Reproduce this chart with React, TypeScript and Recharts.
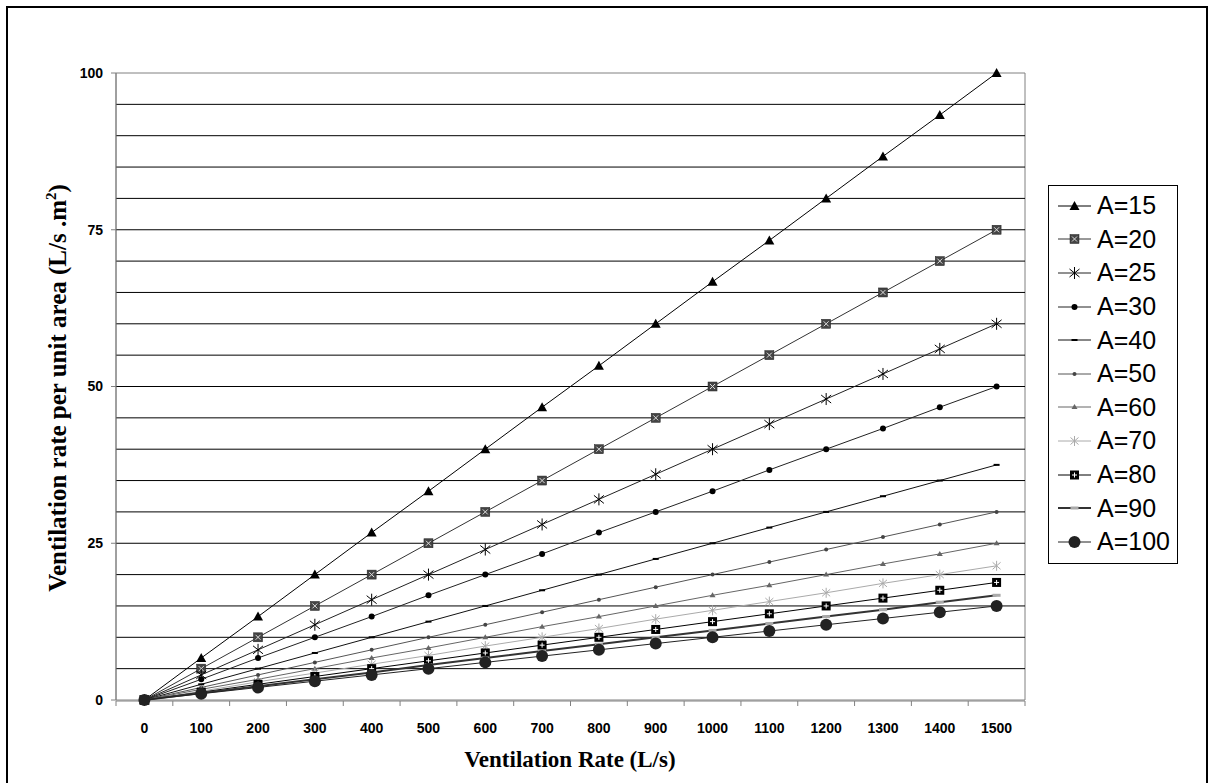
import React from 'react';
import { LineChart, Line, XAxis, YAxis, ReferenceLine, ReferenceArea } from 'recharts';

// ventilation rate (L/s) on the x axis
const rates = [0, 100, 200, 300, 400, 500, 600, 700, 800, 900, 1000, 1100, 1200, 1300, 1400, 1500];

// ventilation rate per unit area, one list per floor area A
const a15 = [0, 6.7, 13.3, 20, 26.7, 33.3, 40, 46.7, 53.3, 60, 66.7, 73.3, 80, 86.7, 93.3, 100];
const a20 = [0, 5, 10, 15, 20, 25, 30, 35, 40, 45, 50, 55, 60, 65, 70, 75];
const a25 = [0, 4, 8, 12, 16, 20, 24, 28, 32, 36, 40, 44, 48, 52, 56, 60];
const a30 = [0, 3.3, 6.7, 10, 13.3, 16.7, 20, 23.3, 26.7, 30, 33.3, 36.7, 40, 43.3, 46.7, 50];
const a40 = [0, 2.5, 5, 7.5, 10, 12.5, 15, 17.5, 20, 22.5, 25, 27.5, 30, 32.5, 35, 37.5];
const a50 = [0, 2, 4, 6, 8, 10, 12, 14, 16, 18, 20, 22, 24, 26, 28, 30];
const a60 = [0, 1.7, 3.3, 5, 6.7, 8.3, 10, 11.7, 13.3, 15, 16.7, 18.3, 20, 21.7, 23.3, 25];
const a70 = [0, 1.4, 2.9, 4.3, 5.7, 7.1, 8.6, 10, 11.4, 12.9, 14.3, 15.7, 17.1, 18.6, 20, 21.4];
const a80 = [0, 1.25, 2.5, 3.75, 5, 6.25, 7.5, 8.75, 10, 11.25, 12.5, 13.75, 15, 16.25, 17.5, 18.75];
const a90 = [0, 1.1, 2.2, 3.3, 4.4, 5.6, 6.7, 7.8, 8.9, 10, 11.1, 12.2, 13.3, 14.4, 15.6, 16.7];
const a100 = [0, 1, 2, 3, 4, 5, 6, 7, 8, 9, 10, 11, 12, 13, 14, 15];

const yTicks = [0, 25, 50, 75, 100];
const gridValues = [5, 10, 15, 20, 25, 30, 35, 40, 45, 50, 55, 60, 65, 70, 75, 80, 85, 90, 95];
// tick marks sit between the categories, like Excel
const xTickMarks = [-50, 50, 150, 250, 350, 450, 550, 650, 750, 850, 950, 1050, 1150, 1250, 1350, 1450, 1550];

type MarkerKind =
  | 'triangle' | 'squareX' | 'star' | 'dot' | 'dash' | 'smallDot'
  | 'smallTriangle' | 'lightStar' | 'squarePlus' | 'bar' | 'bigDot';

const series: { key: string; name: string; values: number[]; color: string; width: number; marker: MarkerKind }[] = [
  { key: 'a15', name: 'A=15', values: a15, color: '#000', width: 1, marker: 'triangle' },
  { key: 'a20', name: 'A=20', values: a20, color: '#333', width: 1, marker: 'squareX' },
  { key: 'a25', name: 'A=25', values: a25, color: '#222', width: 1, marker: 'star' },
  { key: 'a30', name: 'A=30', values: a30, color: '#222', width: 1, marker: 'dot' },
  { key: 'a40', name: 'A=40', values: a40, color: '#111', width: 1, marker: 'dash' },
  { key: 'a50', name: 'A=50', values: a50, color: '#555', width: 1, marker: 'smallDot' },
  { key: 'a60', name: 'A=60', values: a60, color: '#666', width: 1, marker: 'smallTriangle' },
  { key: 'a70', name: 'A=70', values: a70, color: '#aaa', width: 1, marker: 'lightStar' },
  { key: 'a80', name: 'A=80', values: a80, color: '#000', width: 1, marker: 'squarePlus' },
  { key: 'a90', name: 'A=90', values: a90, color: '#333', width: 2, marker: 'bar' },
  { key: 'a100', name: 'A=100', values: a100, color: '#222', width: 1, marker: 'bigDot' },
];

const rows = rates.map((x, i) => {
  const row: Record<string, number> = { x };
  series.forEach((s) => { row[s.key] = s.values[i]; });
  return row;
});

function Marker({ kind, cx, cy }: { kind: MarkerKind; cx: number; cy: number }) {
  switch (kind) {
    case 'triangle':
      return <path d={`M${cx},${cy - 5} L${cx + 5},${cy + 4} L${cx - 5},${cy + 4} Z`} fill="#000" />;
    case 'squareX':
      return (
        <g>
          <rect x={cx - 4.5} y={cy - 4.5} width={9} height={9} fill="#444" stroke="#222" strokeWidth={0.5} />
          <path d={`M${cx - 2.5},${cy - 2.5} L${cx + 2.5},${cy + 2.5} M${cx + 2.5},${cy - 2.5} L${cx - 2.5},${cy + 2.5}`} stroke="#ddd" strokeWidth={1} />
        </g>
      );
    case 'star':
      return (
        <path
          d={`M${cx},${cy - 6} L${cx},${cy + 6} M${cx - 5},${cy - 4} L${cx + 5},${cy + 4} M${cx + 5},${cy - 4} L${cx - 5},${cy + 4}`}
          stroke="#000" strokeWidth={1} fill="none"
        />
      );
    case 'dot':
      return <circle cx={cx} cy={cy} r={3} fill="#000" />;
    case 'dash':
      return <rect x={cx - 3} y={cy - 1} width={6} height={2} fill="#000" />;
    case 'smallDot':
      return <circle cx={cx} cy={cy} r={2} fill="#444" />;
    case 'smallTriangle':
      return <path d={`M${cx},${cy - 3} L${cx + 3},${cy + 2} L${cx - 3},${cy + 2} Z`} fill="#666" />;
    case 'lightStar':
      return (
        <path
          d={`M${cx},${cy - 5} L${cx},${cy + 5} M${cx - 4},${cy - 3.5} L${cx + 4},${cy + 3.5} M${cx + 4},${cy - 3.5} L${cx - 4},${cy + 3.5}`}
          stroke="#aaa" strokeWidth={1} fill="none"
        />
      );
    case 'squarePlus':
      return (
        <g>
          <rect x={cx - 4.5} y={cy - 4.5} width={9} height={9} fill="#000" />
          <path d={`M${cx - 2.5},${cy} L${cx + 2.5},${cy} M${cx},${cy - 2.5} L${cx},${cy + 2.5}`} stroke="#fff" strokeWidth={1} />
        </g>
      );
    case 'bar':
      return <rect x={cx - 4} y={cy - 1.5} width={8} height={3} fill="#aaa" />;
    case 'bigDot':
      return <circle cx={cx} cy={cy} r={6} fill="#222" />;
  }
  return null;
}

const tickFont = { fill: '#000', fontSize: 14, fontWeight: 700, fontFamily: '"Liberation Sans", Arial, sans-serif' };
const titleFont = { fontFamily: '"Liberation Serif", "Times New Roman", serif', fontWeight: 700, color: '#000' };

export default function App() {
  return (
    <div style={{ position: 'absolute', left: 0, top: 0, width: 1209, height: 783, background: '#fff', overflow: 'hidden' }}>
      <div style={{ position: 'absolute', left: 6, top: 6, width: 1198, height: 820, border: '2px solid #000' }} />

      <div style={{ position: 'absolute', left: 0, top: 0 }}>
        <LineChart width={1209} height={783} data={rows} margin={{ top: 73, right: 184, bottom: 81, left: 115 }}>
          <XAxis
            xAxisId="marks"
            dataKey="x"
            type="number"
            domain={[-50, 1550]}
            ticks={xTickMarks}
            interval={0}
            tick={() => <g />}
            height={1}
            tickSize={5}
            axisLine={{ stroke: '#808080' }}
            tickLine={{ stroke: '#808080' }}
          />
          <XAxis
            dataKey="x"
            type="number"
            domain={[-50, 1550]}
            ticks={rates}
            interval={0}
            height={1}
            tickSize={5}
            tickMargin={18}
            tickLine={false}
            axisLine={false}
            tick={tickFont}
          />
          <YAxis
            type="number"
            domain={[0, 100]}
            ticks={yTicks}
            width={1}
            tickSize={5}
            tickMargin={8}
            axisLine={{ stroke: '#808080' }}
            tickLine={{ stroke: '#808080' }}
            tick={tickFont}
          />
          {gridValues.map((v) => (
            <ReferenceLine key={v} y={v} stroke="#000" strokeWidth={1} />
          ))}
          <ReferenceArea x1={-50} x2={1550} y1={0} y2={100} fill="none" stroke="#808080" strokeWidth={1} />
          {series.map((s) => (
            <Line
              key={s.key}
              dataKey={s.key}
              name={s.name}
              type="linear"
              stroke={s.color}
              strokeWidth={s.width}
              isAnimationActive={false}
              activeDot={false}
              dot={(p: any) => <Marker key={`${s.key}-${p.index}`} kind={s.marker} cx={p.cx} cy={p.cy} />}
            />
          ))}
        </LineChart>
      </div>

      {/* axis titles */}
      <div style={{ ...titleFont, fontSize: 23, position: 'absolute', left: 370, width: 400, top: 748, lineHeight: '23px', textAlign: 'center', whiteSpace: 'nowrap' }}>
        Ventilation Rate (L/s)
      </div>
      <div
        style={{
          ...titleFont,
          fontSize: 25,
          position: 'absolute',
          left: 57,
          top: 388,
          lineHeight: '25px',
          whiteSpace: 'nowrap',
          transform: 'translate(-50%, -50%) rotate(-90deg)',
        }}
      >
        Ventilation rate per unit area (L/s .m<sup style={{ fontSize: 15, lineHeight: 0 }}>2</sup>)
      </div>

      {/* legend */}
      <div
        style={{
          position: 'absolute',
          left: 1048,
          top: 185,
          width: 128,
          height: 374,
          border: '1px solid #000',
          background: '#fff',
          paddingTop: 3,
          boxSizing: 'content-box',
        }}
      >
        {series.map((s) => (
          <div key={s.key} style={{ height: 33.6, display: 'flex', alignItems: 'center' }}>
            <svg width={39} height={20} style={{ marginLeft: 9, flex: 'none' }}>
              <line x1={0} y1={10} x2={33} y2={10} stroke={s.color} strokeWidth={s.width} />
              <Marker kind={s.marker} cx={16.5} cy={10} />
            </svg>
            <span style={{ fontFamily: '"Liberation Sans", Arial, sans-serif', fontSize: 25, color: '#000', whiteSpace: 'nowrap' }}>
              {s.name}
            </span>
          </div>
        ))}
      </div>
    </div>
  );
}
